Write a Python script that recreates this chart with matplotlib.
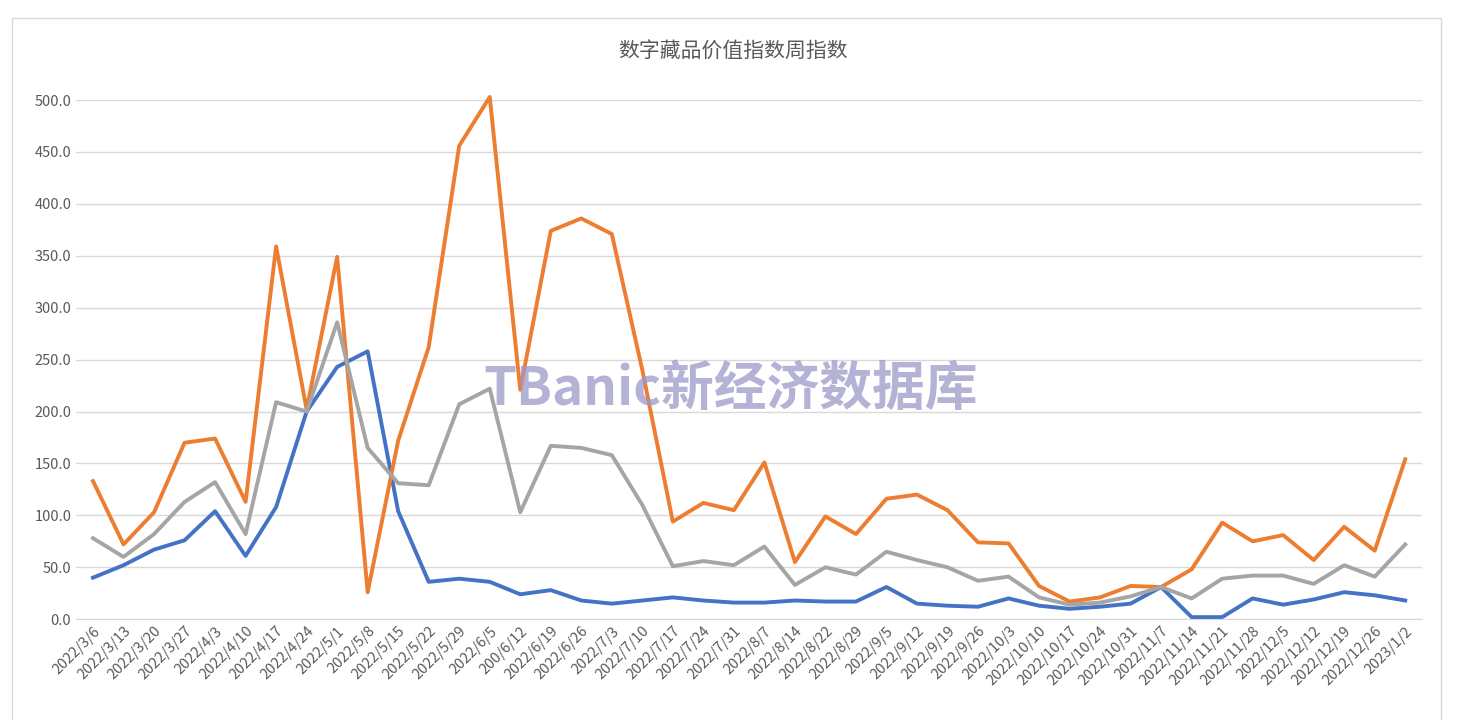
import matplotlib.pyplot as plt
import matplotlib.patches as mpatches

plt.rcParams['font.family'] = ['Noto Sans CJK SC', 'DejaVu Sans']

dates = ['2022/3/6', '2022/3/13', '2022/3/20', '2022/3/27', '2022/4/3', '2022/4/10',
         '2022/4/17', '2022/4/24', '2022/5/1', '2022/5/8', '2022/5/15', '2022/5/22',
         '2022/5/29', '2022/6/5', '200/6/12', '2022/6/19', '2022/6/26', '2022/7/3',
         '2022/7/10', '2022/7/17', '2022/7/24', '2022/7/31', '2022/8/7', '2022/8/14',
         '2022/8/22', '2022/8/29', '2022/9/5', '2022/9/12', '2022/9/19', '2022/9/26',
         '2022/10/3', '2022/10/10', '2022/10/17', '2022/10/24', '2022/10/31', '2022/11/7',
         '2022/11/14', '2022/11/21', '2022/11/28', '2022/12/5', '2022/12/12', '2022/12/19',
         '2022/12/26', '2023/1/2']

blue = [40, 52, 67, 76, 104, 61, 108, 200, 243, 258, 104, 36, 39, 36, 24, 28, 18, 15,
        18, 21, 18, 16, 16, 18, 17, 17, 31, 15, 13, 12, 20, 13, 10, 12, 15, 31, 2, 2,
        20, 14, 19, 26, 23, 18]
orange = [133, 72, 103, 170, 174, 113, 359, 202, 349, 26, 172, 262, 456, 503, 221, 374,
          386, 371, 240, 94, 112, 105, 151, 55, 99, 82, 116, 120, 105, 74, 73, 32, 17, 21,
          32, 31, 48, 93, 75, 81, 57, 89, 66, 154]
gray = [78, 60, 82, 113, 132, 82, 209, 200, 286, 165, 131, 129, 207, 222, 103, 167, 165,
        158, 110, 51, 56, 52, 70, 33, 50, 43, 65, 57, 50, 37, 41, 21, 14, 16, 22, 31, 20,
        39, 42, 42, 34, 52, 41, 72]

fig = plt.figure(figsize=(14.66, 7.2), dpi=100)
fig.patches.append(mpatches.Rectangle((0.008, -0.01), 0.975, 0.985, transform=fig.transFigure,
                                      fill=False, edgecolor='#d9d9d9', linewidth=1))
ax = fig.add_axes([0.052, 0.14, 0.918, 0.721])

x = list(range(len(dates)))
for ys, c in [(blue, '#4472c4'), (orange, '#ed7d31'), (gray, '#a5a5a5')]:
    ax.plot(x, ys, color=c, linewidth=2.8, clip_on=False)

ax.set_xlim(-0.55, len(dates) - 0.45)
ax.set_ylim(0, 500)
ax.set_yticks(range(0, 501, 50))
ax.set_yticklabels([f'{v:.1f}' for v in range(0, 501, 50)])
ax.set_xticks(x)
ax.set_xticklabels(dates, rotation=45, ha='right', rotation_mode='anchor')
ax.tick_params(labelsize=10.5, colors='#595959', length=0)
ax.grid(axis='y', color='#d9d9d9', linewidth=1)
ax.set_axisbelow(True)
for s in ['top', 'right', 'left']:
    ax.spines[s].set_visible(False)
ax.spines['bottom'].set_color('#d9d9d9')

fig.text(0.5, 0.92, '数字藏品价值指数周指数', ha='center', fontsize=15, color='#595959')

# watermark
fig.text(0.33, 0.46, 'TBanic新经济数据库', fontsize=38, fontweight='bold',
         color='#9b98c8', alpha=0.75, va='center')

fig.savefig('out.png', dpi=100)
